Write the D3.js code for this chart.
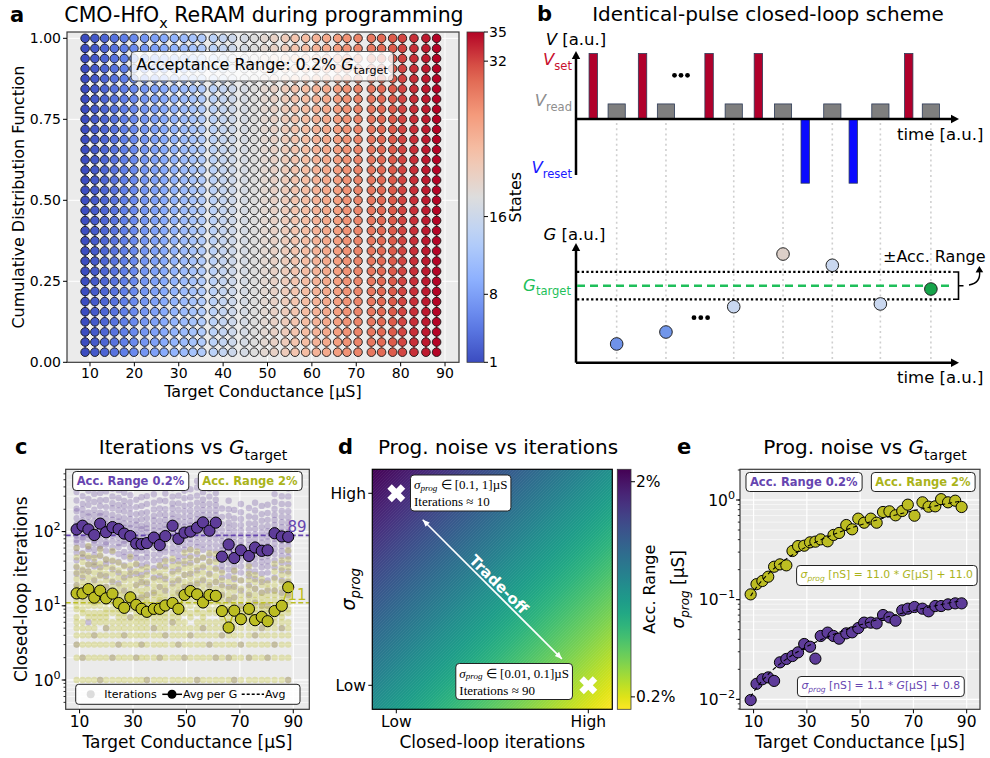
<!DOCTYPE html>
<html><head><meta charset="utf-8">
<script src="https://cdn.jsdelivr.net/npm/d3@7"></script>
<style>
html,body{margin:0;padding:0;background:#fff;}
svg{display:block;font-family:"DejaVu Sans",sans-serif;}
</style></head>
<body><svg id="fig" width="990" height="758"></svg>
<script>
// ======================= DATA =======================
const gTargets = [8.9, 11.1, 13.3, 15.5, 17.7, 19.9, 22.3, 24.6, 26.7, 29.0, 31.2, 33.2, 35.2, 37.8, 40.0, 42.1, 44.8, 47.0, 49.3, 51.5, 54.0, 56.2, 58.6, 61.0, 63.3, 65.8, 67.9, 70.4, 73.4, 75.7, 78.2, 80.4, 83.0, 85.7, 88.1];
const stateIds = [1,2,3,4,5,6,7,8,9,10,11,12,13,14,15,16,17,18,19,20,21,22,23,24,25,26,27,28,29,30,31,32,33,34,35];
const cdfLevels = [0.03125,0.0625,0.09375,0.125,0.15625,0.1875,0.21875,0.25,0.28125,0.3125,0.34375,0.375,0.40625,0.4375,0.46875,0.5,0.53125,0.5625,0.59375,0.625,0.65625,0.6875,0.71875,0.75,0.78125,0.8125,0.84375,0.875,0.90625,0.9375,0.96875,1.0];
const xTicksA = [10,20,30,40,50,60,70,80,90];
const yTicksA = [0,0.25,0.5,0.75,1.0];
const cbarTicksA = [1,8,16,32,35];
const xTicksCE = [10,30,50,70,90];

// panel c : closed-loop iterations
const avgIter02 = [107,120,107,90,128,98,115,108,94,87,69,68,70,83,66,87,120,80,97,100,113,133,103,132,46,67,44,56,47,61,55,56,95,86,85];
const avgIter2  = [14.7,14.7,16.8,12.9,16.0,12.6,14.6,10.9,9.4,13.0,10.3,9.1,8.3,9.1,9.1,10.1,10.9,9.1,14.0,15.8,14.3,11.1,14.0,13.6,8.5,5.1,8.6,6.6,9.1,6.4,7.1,6.2,8.5,10.0,17.8];
const segmentStarts = [0, 24, 32];
const meanIter02 = 89, meanIter2 = 11;
const iterCloud02 = [
"3 19 27 33 41 52 60 71 77 88 103 119 126 151 188 204 262 341 415",
"2 24 30 45 51 66 79 84 98 112 131 142 170 199 236 301 388 472",
"6 17 29 36 44 58 63 80 91 107 115 134 160 181 229 276 355",
"4 15 22 34 39 48 57 69 76 90 96 118 139 166 197 250 322",
"1 26 33 47 59 64 77 92 101 125 138 162 180 221 264 330 405 520",
"5 18 25 37 42 55 67 72 86 99 110 127 149 175 214 267 348",
"2 21 31 40 53 61 74 88 95 114 122 145 168 206 241 298 377 460",
"3 20 28 39 50 62 70 83 97 104 121 137 158 193 228 284 362",
"4 16 24 35 46 53 68 75 87 102 113 129 151 186 219 258 334",
"7 14 26 31 43 50 61 73 85 94 112 125 148 174 207 249 310",
"2 12 19 27 36 44 51 60 70 81 92 106 124 141 172 214 268",
"3 13 21 26 35 43 55 61 72 80 94 108 119 146 177 221 290",
"1 14 20 29 37 45 52 63 69 84 98 110 126 152 183 236 301",
"5 15 24 32 41 49 60 71 79 93 104 120 141 163 199 245 318 390",
"2 11 18 25 34 41 50 58 67 78 88 101 117 139 170 205 262",
"4 16 23 34 42 53 61 74 83 97 108 123 144 168 201 258 326",
"6 20 29 40 51 60 73 86 94 113 127 149 172 205 240 296 384 470",
"3 15 22 31 40 47 57 68 76 90 101 118 137 161 196 240 305",
"2 18 26 37 46 57 66 79 88 104 116 134 158 189 223 281 355",
"4 19 27 38 47 58 69 80 93 107 121 139 163 193 231 290 372",
"1 20 30 41 50 62 72 85 97 112 129 147 171 204 246 305 392 480",
"5 22 33 44 57 67 81 95 108 126 143 166 194 229 271 340 425 530",
"3 19 27 39 48 59 70 83 95 110 126 145 168 199 238 296 375",
"2 21 32 43 55 66 80 93 107 124 142 166 192 226 268 330 410 510",
"4 9 14 19 24 30 35 42 48 56 64 75 88 104 126 158 205",
"2 12 18 25 31 38 45 53 61 71 82 96 113 133 162 200 260",
"1 8 13 18 23 29 34 40 46 54 62 72 85 101 122 150 196",
"3 10 16 22 28 34 41 48 56 65 75 88 103 122 148 182 235",
"2 9 14 19 25 30 36 42 49 57 66 77 90 107 129 160 208",
"4 11 17 23 29 36 43 50 58 68 79 92 108 128 155 192 245",
"5 10 15 21 27 33 39 45 53 62 71 83 97 115 140 172 222",
"2 10 16 22 28 34 40 47 55 64 74 86 101 119 144 178 230",
"3 16 24 33 41 50 59 69 80 93 106 123 143 168 202 250 320 410",
"5 15 22 30 38 47 55 64 75 86 99 115 134 158 190 236 300",
"1 14 21 29 37 46 54 64 74 85 98 113 132 156 188 234 298 380"];
const iterCloud2 = [
"1 2 3 4 5 6 7 9 10 12 14 17 19 23 28 34 45 60",
"1 2 3 4 5 6 8 9 11 13 15 18 21 26 31 39 50",
"1 2 3 4 5 7 8 10 12 14 16 20 24 29 36 47 64",
"1 2 3 4 5 6 7 8 10 11 13 16 19 23 28 36 44",
"1 2 3 4 6 7 8 10 12 14 17 20 25 30 37 48 58",
"1 2 3 4 5 6 7 8 9 11 13 15 18 22 27 33 42",
"1 2 3 4 5 6 8 9 11 13 15 18 22 27 33 41 55",
"1 2 3 4 5 6 7 8 9 10 12 14 16 19 24 30 38",
"1 2 3 4 5 6 7 8 9 10 11 13 15 18 22 27 34",
"1 2 3 4 5 6 7 9 10 12 14 16 19 23 28 35 46",
"1 2 3 4 5 6 7 8 9 10 11 13 16 19 23 29 37",
"1 2 3 4 5 6 7 8 9 10 12 14 16 20 24 31",
"1 2 3 4 5 6 7 8 9 10 11 12 14 17 21 26 33",
"1 2 3 4 5 6 7 8 9 10 12 14 16 19 23 29",
"1 2 3 4 5 6 7 8 9 10 12 13 15 18 22 28 35",
"1 2 3 4 5 6 7 8 9 11 12 14 17 20 25 31 40",
"1 2 3 4 5 6 7 8 10 11 13 15 18 22 27 34 43",
"1 2 3 4 5 6 7 8 9 10 12 14 16 19 23 29 36",
"1 2 3 4 5 6 8 9 11 13 15 18 21 26 32 40 52",
"1 2 3 4 5 7 8 10 12 14 17 20 24 29 35 44 57",
"1 2 3 4 5 6 8 9 11 13 16 19 22 27 33 41 54",
"1 2 3 4 5 6 7 8 10 12 14 16 19 23 28 35 45",
"1 2 3 4 5 6 8 9 11 13 15 18 21 26 32 40 51",
"1 2 3 4 5 6 8 9 11 12 15 17 21 25 31 39 50",
"1 2 3 4 5 6 7 8 9 10 11 13 15 18 22 28",
"1 2 3 4 5 6 7 8 9 10 12 14 17 21",
"1 2 3 4 5 6 7 8 9 10 11 13 16 19 24 30",
"1 2 3 4 5 6 7 8 9 10 12 14 17 22",
"1 2 3 4 5 6 7 8 9 10 11 13 15 18 22 27 34",
"1 2 3 4 5 6 7 8 9 10 12 14 17 21 26",
"1 2 3 4 5 6 7 8 9 10 11 13 15 19 23",
"1 2 3 4 5 6 7 8 9 10 12 14 17 20",
"1 2 3 4 5 6 7 8 9 10 12 14 16 19 23 29 37",
"1 2 3 4 5 6 7 8 9 11 12 14 17 21 26 32 41",
"1 2 3 4 5 6 8 9 11 13 15 18 22 27 33 42 56"];

// panel e : programming noise (µS)
const sigma2  = [0.113,0.143,0.154,0.170,0.214,0.226,0.221,0.308,0.345,0.348,0.376,0.382,0.403,0.385,0.446,0.467,0.561,0.508,0.650,0.592,0.650,0.592,0.758,0.770,0.702,0.776,0.898,0.696,0.948,0.857,0.864,1.02,0.948,0.984,0.851];
const sigma02 = [0.00984,0.0143,0.0159,0.0166,0.0153,0.0235,0.0254,0.0272,0.0296,0.0359,0.0337,0.0256,0.0432,0.0467,0.0432,0.0406,0.0459,0.0470,0.0519,0.0588,0.0588,0.0578,0.0701,0.0664,0.0615,0.0781,0.0812,0.0844,0.0812,0.0764,0.0863,0.0863,0.0897,0.0918,0.0918];
const fit2  = [11.0, 11.0];   // slope, intercept  (nS)
const fit02 = [1.1, 0.8];

// panel b : schematic pulse train (a.u.)
const setTimes   = [0.7, 2.7, 5.4, 7.4, 13.5];
const readTimes  = [1.65, 3.65, 6.4, 8.4, 10.4, 12.35, 14.4];
const resetTimes = [9.3, 11.25];
const vSet = 1.0, vRead = 0.23, vReset = -0.98;
const gReadings = [0.157, 0.257, 0.469, 0.910, 0.816, 0.492, 0.617];
const gTargetLevel = 0.645, gBandLow = 0.531, gBandHigh = 0.760;

// panel d : trade-off map
const accRangeTicks = [2, 0.2];
const accRangeDomain = [2.104, 0.096];
const tradeoffPoints = [[0.1, 0.9], [0.9, 0.1]];

// ======================= STYLE =======================
const svg = d3.select("#fig");
const PURPLE = "#5e3c99", PURPLE_T = "#6645b0", OLIVE = "#bcbd22";
const AXBG = "#ebebeb", SPINE = "#3a3a3a";
const coolwarmStops = ["#3b4cc0","#6282ea","#8db0fe","#b8d0f9","#dddddd","#f5c4ac","#f49a7b","#de604d","#b40426"];
const coolwarm = d3.scaleLinear().domain(coolwarmStops.map((d,i)=>i/(coolwarmStops.length-1))).range(coolwarmStops).interpolate(d3.interpolateRgb);
const defs = svg.append("defs");

function rich(g, x, y, parts, o = {}) {
  const size = o.size || 14;
  const t = g.append("text").attr("x", x).attr("y", y).attr("font-size", size)
    .attr("fill", o.fill || "#000").attr("text-anchor", o.anchor || "start");
  if (o.family) t.attr("font-family", o.family);
  if (o.weight) t.attr("font-weight", o.weight);
  let shift = 0;
  parts.forEach(p => {
    const s = typeof p === "string" ? { t: p } : p;
    const target = s.sub ? size * 0.28 : s.sup ? -size * 0.42 : 0;
    const ts = t.append("tspan").text(s.t).attr("dy", target - shift);
    shift = target;
    if (s.sub || s.sup) ts.attr("font-size", size * (s.scale || 0.7));
    if (s.it) ts.attr("font-style", "italic");
    if (s.fill) ts.attr("fill", s.fill);
  });
  return t;
}
// multi-line text in a single <text> element
function richLines(g, x, y, lines, gap, o = {}) {
  const size = o.size || 14;
  const t = g.append("text").attr("x", x).attr("y", y).attr("font-size", size).attr("fill", o.fill || "#000");
  if (o.family) t.attr("font-family", o.family);
  let shift = 0;
  lines.forEach((parts, li) => {
    parts.forEach((p, pi) => {
      const s = typeof p === "string" ? { t: p } : p;
      const target = s.sub ? size * 0.15 : 0;
      const ts = t.append("tspan").text(s.t);
      if (pi === 0 && li > 0) { ts.attr("x", x).attr("dy", gap + target - shift); }
      else ts.attr("dy", target - shift);
      shift = target;
      if (s.sub) ts.attr("font-size", size * 0.7);
      if (s.it) ts.attr("font-style", "italic");
    });
  });
  return t;
}
function boxIt(g, nodes, padX, padY, o = {}) {
  let x0 = 1e9, y0 = 1e9, x1 = -1e9, y1 = -1e9;
  nodes.forEach(n => { const b = n.node().getBBox(); x0 = Math.min(x0, b.x); y0 = Math.min(y0, b.y); x1 = Math.max(x1, b.x + b.width); y1 = Math.max(y1, b.y + b.height); });
  g.insert("rect", () => nodes[0].node())
    .attr("x", x0 - padX).attr("y", y0 - padY).attr("width", x1 - x0 + 2 * padX).attr("height", y1 - y0 + 2 * padY)
    .attr("rx", o.rx || 3.5).attr("fill", "#fff").attr("fill-opacity", o.op === undefined ? 0.85 : o.op)
    .attr("stroke", o.stroke || "#222").attr("stroke-width", o.sw || 1);
}
function line(g, x1, y1, x2, y2, stroke, w, dash) {
  const l = g.append("line").attr("x1", x1).attr("y1", y1).attr("x2", x2).attr("y2", y2).attr("stroke", stroke).attr("stroke-width", w);
  if (dash) l.attr("stroke-dasharray", dash);
  return l;
}
function logLabel(g, x, y, exp, size) {
  const t = g.append("text").attr("x", x).attr("y", y + size * 0.36).attr("text-anchor", "end").attr("font-size", size);
  t.append("tspan").text("10");
  t.append("tspan").attr("dy", -size * 0.45).attr("font-size", size * 0.72).text(exp < 0 ? "\u2212" + (-exp) : String(exp));
}

// ======================= PANEL A =======================
{
  const A = { l: 67, r: 459, t: 32, b: 362.3 };
  const xA = d3.scaleLinear().domain([4.82, 93.15]).range([A.l, A.r]);
  const yA = d3.scaleLinear().domain([0, 1.0195]).range([A.b, A.t]);
  const cA = d3.scaleLinear().domain([1, 35]).range([A.b, A.t]);
  const colorA = s => coolwarm((s - 1) / 34);
  const g = svg.append("g");
  g.append("rect").attr("x", A.l).attr("y", A.t).attr("width", A.r - A.l).attr("height", A.b - A.t).attr("fill", AXBG);
  xTicksA.forEach(v => line(g, xA(v), A.t, xA(v), A.b, "#fff", 1));
  yTicksA.forEach(v => line(g, A.l, yA(v), A.r, yA(v), "#fff", 1));
  gTargets.forEach((gt, i) => {
    const c = colorA(stateIds[i]);
    g.append("path").attr("d", d3.line()(cdfLevels.map(p => [xA(gt), yA(p)]))).attr("stroke", c).attr("stroke-width", 1.5).attr("fill", "none");
    g.selectAll(null).data(cdfLevels).join("circle").attr("cx", xA(gt)).attr("cy", p => yA(p)).attr("r", 4.3)
      .attr("fill", c).attr("stroke", "#161616").attr("stroke-width", 0.9);
  });
  g.append("rect").attr("x", A.l).attr("y", A.t).attr("width", A.r - A.l).attr("height", A.b - A.t).attr("fill", "none").attr("stroke", SPINE).attr("stroke-width", 1.2);
  xTicksA.forEach(v => { line(g, xA(v), A.b, xA(v), A.b + 4, "#000", 1); g.append("text").attr("x", xA(v)).attr("y", 378).attr("text-anchor", "middle").attr("font-size", 14).text(v); });
  yTicksA.forEach(v => { line(g, A.l - 4, yA(v), A.l, yA(v), "#000", 1); g.append("text").attr("x", 61).attr("y", yA(v) + 5).attr("text-anchor", "end").attr("font-size", 14).text(v.toFixed(2)); });
  g.append("text").attr("x", (A.l + A.r) / 2).attr("y", 397).attr("text-anchor", "middle").attr("font-size", 16).text("Target Conductance [µS]");
  g.append("text").attr("transform", `translate(18,${(A.t + A.b) / 2}) rotate(-90)`).attr("dy", "0.35em").attr("text-anchor", "middle").attr("font-size", 16).text("Cumulative Distribution Function");
  rich(g, 264, 22, ["CMO-HfO", { t: "x", sub: true }, " ReRAM during programming"], { size: 20.5, anchor: "middle" });
  g.append("text").attr("x", 10).attr("y", 22).attr("font-size", 21).attr("font-weight", "bold").text("a");
  const ann = rich(g, 262, 70, ["Acceptance Range: 0.2% ", { t: "G", it: true }, { t: "target", sub: true }], { size: 16, anchor: "middle" });
  boxIt(g, [ann], 5, 3.5, { stroke: "#555", op: 0.8 });
  const grad = defs.append("linearGradient").attr("id", "cwgrad").attr("x1", 0).attr("y1", 1).attr("x2", 0).attr("y2", 0);
  d3.range(0, 1.0001, 0.05).forEach(t => grad.append("stop").attr("offset", t).attr("stop-color", coolwarm(t)));
  g.append("rect").attr("x", 467).attr("y", A.t).attr("width", 17).attr("height", A.b - A.t).attr("fill", "url(#cwgrad)").attr("stroke", SPINE).attr("stroke-width", 0.8);
  cbarTicksA.forEach(v => { line(g, 484, cA(v), 488, cA(v), "#000", 1); g.append("text").attr("x", 489).attr("y", cA(v) + 5).attr("font-size", 14).text(v); });
  g.append("text").attr("transform", `translate(515,${(A.t + A.b) / 2}) rotate(-90)`).attr("dy", "0.35em").attr("text-anchor", "middle").attr("font-size", 16).text("States");
}

// ======================= PANEL B =======================
{
  const g = svg.append("g");
  const xB = d3.scaleLinear().domain([0, 15.5]).range([576, 958]);
  const vB = d3.scaleLinear().domain([0, 1]).range([119, 53.5]);
  const gB = d3.scaleLinear().domain([0, 1]).range([362.7, 243.3]);
  g.append("text").attr("x", 537).attr("y", 21).attr("font-size", 21).attr("font-weight", "bold").text("b");
  g.append("text").attr("x", 768).attr("y", 21).attr("text-anchor", "middle").attr("font-size", 20).text("Identical-pulse closed-loop scheme");
  readTimes.forEach(t => line(g, xB(t), 123, xB(t), 360, "#cfcfcf", 1.6, "2,3.2"));
  const edge = "#2d3b57";
  setTimes.forEach(t => g.append("rect").attr("x", xB(t) - 4.2).attr("y", vB(vSet)).attr("width", 8.4).attr("height", vB(0) - vB(vSet)).attr("fill", "#b0002c").attr("stroke", edge).attr("stroke-width", 0.8));
  readTimes.forEach(t => g.append("rect").attr("x", xB(t) - 8.6).attr("y", vB(vRead)).attr("width", 17.2).attr("height", vB(0) - vB(vRead)).attr("fill", "#7f7f7f").attr("stroke", edge).attr("stroke-width", 0.8));
  resetTimes.forEach(t => g.append("rect").attr("x", xB(t) - 4.2).attr("y", vB(0)).attr("width", 8.4).attr("height", vB(vReset) - vB(0)).attr("fill", "#0a0aff").attr("stroke", edge).attr("stroke-width", 0.8));
  const arrow = (x, y, dir) => {
    const s = 8, w = 4.2;
    let p;
    if (dir === "up") p = `M${x},${y} L${x - w},${y + s} L${x + w},${y + s} Z`;
    else p = `M${x},${y} L${x - s},${y - w} L${x - s},${y + w} Z`;
    g.append("path").attr("d", p).attr("fill", "#000");
  };
  line(g, 576, 175, 576, 58, "#000", 2.5); arrow(576, 51, "up");
  line(g, 576, vB(0), 952, vB(0), "#000", 2.5); arrow(959, vB(0), "right");
  line(g, 576, 362.7, 576, 250, "#000", 2.5); arrow(576, 243, "up");
  line(g, 576, 362.7, 952, 362.7, "#000", 2.5); arrow(959, 362.7, "right");
  g.selectAll(null).data([674.5, 681, 687.5]).join("circle").attr("cx", d => d).attr("cy", 75.3).attr("r", 2.4).attr("fill", "#000");
  rich(g, 545.7, 45, [{ t: "V", it: true }, " [a.u.]"], { size: 16.5 });
  rich(g, 572, 65, [{ t: "V", it: true }, { t: "set", sub: true }], { size: 16.5, anchor: "end", fill: "#c8102e" });
  rich(g, 572, 106, [{ t: "V", it: true }, { t: "read", sub: true }], { size: 16.5, anchor: "end", fill: "#8e8e8e" });
  rich(g, 572, 173.3, [{ t: "V", it: true }, { t: "reset", sub: true }], { size: 16.5, anchor: "end", fill: "#1a1aff" });
  g.append("text").attr("x", 897).attr("y", 140).attr("font-size", 16.5).text("time [a.u.]");
  rich(g, 543.5, 239.5, [{ t: "G", it: true }, " [a.u.]"], { size: 16.5 });
  g.append("text").attr("x", 897).attr("y", 383).attr("font-size", 16.5).text("time [a.u.]");
  line(g, 577, gB(gBandHigh), 952, gB(gBandHigh), "#000", 2.2, "2.3,2.4");
  line(g, 577, gB(gBandLow), 952, gB(gBandLow), "#000", 2.2, "2.3,2.4");
  line(g, 577, gB(gTargetLevel), 952, gB(gTargetLevel), "#1fbf5a", 2.6, "8,5");
  rich(g, 571, 290.5, [{ t: "G", it: true }, { t: "target", sub: true }], { size: 16.5, anchor: "end", fill: "#1fbf5a" });
  g.append("path").attr("d", `M953,${gB(gBandHigh)} H958.5 V${gB(gBandLow)} H953 M958.5,${gB(gTargetLevel)} H963.5`).attr("fill", "none").attr("stroke", "#000").attr("stroke-width", 1.6);
  g.append("path").attr("d", "M969,285 Q981,283 979.5,271").attr("fill", "none").attr("stroke", "#000").attr("stroke-width", 1.4);
  g.append("path").attr("d", "M979.3,266 L975.6,272.5 L983.2,272.3 Z").attr("fill", "#000");
  g.append("text").attr("x", 883).attr("y", 262).attr("font-size", 16).text("±Acc. Range");
  g.selectAll(null).data([694, 700.8, 707.6]).join("circle").attr("cx", d => d).attr("cy", 317.7).attr("r", 2.4).attr("fill", "#000");
  const circleColors = ["#6f92e8", "#7196ea", "#c9d7ef", "#dccfc8", "#c9d7ef", "#c9d7ef", "#16a34a"];
  g.selectAll(null).data(gReadings).join("circle").attr("cx", (d, i) => xB(readTimes[i])).attr("cy", d => gB(d)).attr("r", 6.3)
    .attr("fill", (d, i) => circleColors[i]).attr("stroke", "#222").attr("stroke-width", 1);
}

// ======================= helpers for log panels =======================
function logPanel(g, P, xS, yS, majors) {
  g.append("rect").attr("x", P.l).attr("y", P.t).attr("width", P.r - P.l).attr("height", P.b - P.t).attr("fill", AXBG);
  const all = yS.ticks(20).filter(v => v >= yS.domain()[0] && v <= yS.domain()[1]);
  all.forEach(v => line(g, P.l, yS(v), P.r, yS(v), "#fff", 0.6));
  majors.forEach(v => line(g, P.l, yS(v), P.r, yS(v), "#fff", 1.2));
  xTicksCE.forEach(v => line(g, xS(v), P.t, xS(v), P.b, "#fff", 1.2));
  return all;
}
function logPanelAxes(g, P, xS, yS, majors, exps, all) {
  g.append("rect").attr("x", P.l).attr("y", P.t).attr("width", P.r - P.l).attr("height", P.b - P.t).attr("fill", "none").attr("stroke", SPINE).attr("stroke-width", 1.2);
  all.forEach(v => line(g, P.l - 2.2, yS(v), P.l, yS(v), "#000", 0.8));
  majors.forEach((v, i) => { line(g, P.l - 4, yS(v), P.l, yS(v), "#000", 1); logLabel(g, P.l - 5, yS(v), exps[i], 15.5); });
  xTicksCE.forEach(v => { line(g, xS(v), P.b, xS(v), P.b + 4, "#000", 1); g.append("text").attr("x", xS(v)).attr("y", 727).attr("text-anchor", "middle").attr("font-size", 15.5).text(v); });
  g.append("text").attr("x", (P.l + P.r) / 2).attr("y", 748).attr("text-anchor", "middle").attr("font-size", 17).text("Target Conductance [µS]");
}
function rangeBoxes(g, x02, x2, cy) {
  const a = rich(g, x02, cy + 4, ["Acc. Range 0.2%"], { size: 11.5, weight: "bold", fill: PURPLE_T, anchor: "middle" });
  boxIt(g, [a], 4, 2.5, { op: 1 });
  const b = rich(g, x2, cy + 4, ["Acc. Range 2%"], { size: 11.5, weight: "bold", fill: "#aab31a", anchor: "middle" });
  boxIt(g, [b], 4, 2.5, { op: 1 });
}

// ======================= PANEL C =======================
{
  const P = { l: 65.7, r: 309.3, t: 469.3, b: 709.3 };
  const xC = d3.scaleLinear().domain([4.8, 96]).range([P.l, P.r]);
  const yC = d3.scaleLog().domain([0.403, 691]).range([P.b, P.t]);
  const g = svg.append("g");
  const all = logPanel(g, P, xC, yC, [1, 10, 100]);
  defs.append("clipPath").attr("id", "clipC").append("rect").attr("x", P.l).attr("y", P.t).attr("width", P.r - P.l).attr("height", P.b - P.t);
  const gc = g.append("g").attr("clip-path", "url(#clipC)");
  iterCloud02.forEach((s, i) => s.split(" ").map(Number).forEach(v => gc.append("circle").attr("cx", xC(gTargets[i])).attr("cy", yC(v)).attr("r", 3.2).attr("fill", PURPLE).attr("fill-opacity", 0.27)));
  iterCloud2.forEach((s, i) => s.split(" ").map(Number).forEach(v => gc.append("circle").attr("cx", xC(gTargets[i])).attr("cy", yC(v)).attr("r", 3.2).attr("fill", OLIVE).attr("fill-opacity", 0.3)));
  line(gc, P.l, yC(meanIter02), P.r, yC(meanIter02), PURPLE_T, 1.6, "5,2.5");
  line(gc, P.l, yC(meanIter2), P.r, yC(meanIter2), OLIVE, 1.6, "5,2.5");
  const segs = segmentStarts.map((s, k) => d3.range(s, k + 1 < segmentStarts.length ? segmentStarts[k + 1] : gTargets.length));
  [[avgIter02, PURPLE], [avgIter2, OLIVE]].forEach(([arr, col]) => {
    segs.forEach(idx => gc.append("path").attr("d", d3.line()(idx.map(i => [xC(gTargets[i]), yC(arr[i])]))).attr("fill", "none").attr("stroke", col).attr("stroke-width", 1.5));
    gc.selectAll(null).data(arr).join("circle").attr("cx", (d, i) => xC(gTargets[i])).attr("cy", d => yC(d)).attr("r", 5.6).attr("fill", col).attr("stroke", "#000").attr("stroke-width", 1);
  });
  g.append("text").attr("x", 306.5).attr("y", 532).attr("text-anchor", "end").attr("font-size", 15).attr("fill", PURPLE_T).text(meanIter02);
  g.append("text").attr("x", 306.5).attr("y", 600).attr("text-anchor", "end").attr("font-size", 15).attr("fill", OLIVE).text(meanIter2);
  rangeBoxes(g, 130.5, 250, 481);
  g.append("rect").attr("x", 75.7).attr("y", 684.3).attr("width", 224.3).attr("height", 20).attr("rx", 3).attr("fill", "#fff").attr("fill-opacity", 0.9).attr("stroke", "#222");
  g.append("circle").attr("cx", 90.7).attr("cy", 694.3).attr("r", 4).attr("fill", "#dcdcdc");
  g.append("text").attr("x", 104.3).attr("y", 698.3).attr("font-size", 11).text("Iterations");
  line(g, 162.3, 694.3, 182, 694.3, "#000", 1.5);
  g.append("circle").attr("cx", 172).attr("cy", 694.3).attr("r", 4.5).attr("fill", "#000");
  g.append("text").attr("x", 183).attr("y", 698.3).attr("font-size", 11).text("Avg per G");
  line(g, 241.7, 694.3, 264, 694.3, "#000", 1.4, "3,2");
  g.append("text").attr("x", 265).attr("y", 698.3).attr("font-size", 11).text("Avg");
  logPanelAxes(g, P, xC, yC, [1, 10, 100], [0, 1, 2], all);
  g.append("text").attr("transform", `translate(21,${(P.t + P.b) / 2}) rotate(-90)`).attr("dy", "0.35em").attr("text-anchor", "middle").attr("font-size", 17).text("Closed-loop iterations");
  rich(g, 193, 454, ["Iterations vs ", { t: "G", it: true }, { t: "target", sub: true }], { size: 20, anchor: "middle" });
  g.append("text").attr("x", 15).attr("y", 454).attr("font-size", 21).attr("font-weight", "bold").text("c");
}

// ======================= PANEL D =======================
{
  const P = { l: 372.3, r: 612.3, t: 469.3, b: 709.3 };
  const xD = d3.scaleLinear().domain([0, 1]).range([P.l, P.r]);
  const yD = d3.scaleLinear().domain([0, 1]).range([P.b, P.t]);
  const accColor = d3.scaleSequential(d3.interpolateViridis).domain(accRangeDomain);
  const accY = d3.scaleLinear().domain(accRangeDomain).range([P.t, P.b]);
  const g = svg.append("g");
  const grad = defs.append("linearGradient").attr("id", "diag").attr("x1", 0).attr("y1", 0).attr("x2", 1).attr("y2", 1);
  d3.range(0, 1.0001, 0.05).forEach(t => grad.append("stop").attr("offset", t).attr("stop-color", accColor(accRangeDomain[0] + (accRangeDomain[1] - accRangeDomain[0]) * t)));
  g.append("rect").attr("x", P.l).attr("y", P.t).attr("width", P.r - P.l).attr("height", P.b - P.t).attr("fill", "url(#diag)");
  const pat = defs.append("pattern").attr("id", "hatch").attr("patternUnits", "userSpaceOnUse").attr("width", 3).attr("height", 3);
  pat.append("path").attr("d", "M-1,1 l2,-2 M0,3 l3,-3 M2,4 l2,-2").attr("stroke", "#fff").attr("stroke-width", 0.5).attr("stroke-opacity", 0.12);
  g.append("rect").attr("x", P.l).attr("y", P.t).attr("width", P.r - P.l).attr("height", P.b - P.t).attr("fill", "url(#hatch)");
  g.append("rect").attr("x", P.l).attr("y", P.t).attr("width", P.r - P.l).attr("height", P.b - P.t).attr("fill", "none").attr("stroke", "#000").attr("stroke-width", 1.2);
  const a0 = [xD(0.21), yD(0.79)], a1 = [xD(0.79), yD(0.21)];
  line(g, a0[0], a0[1], a1[0], a1[1], "#fff", 1.6);
  const ah = (p, q) => { const ang = Math.atan2(p[1] - q[1], p[0] - q[0]); const L = 7, W = 3; const b = [p[0] - L * Math.cos(ang), p[1] - L * Math.sin(ang)];
    g.append("path").attr("d", `M${p[0]},${p[1]} L${b[0] + W * Math.sin(ang)},${b[1] - W * Math.cos(ang)} L${b[0] - W * Math.sin(ang)},${b[1] + W * Math.cos(ang)} Z`).attr("fill", "#fff"); };
  ah(a0, a1); ah(a1, a0);
  g.append("text").attr("transform", `translate(498.8,584.3) rotate(44.8)`).attr("text-anchor", "middle").attr("dy", "0.35em").attr("font-size", 15).attr("font-weight", "bold").attr("fill", "#fff").text("Trade-off");
  g.selectAll(null).data(tradeoffPoints).join("path").attr("d", d3.symbol(d3.symbolCross, 200)).attr("transform", d => `translate(${xD(d[0])},${yD(d[1])}) rotate(45)`).attr("fill", "#fff");
  const SER = "Liberation Serif";
  const t1 = richLines(g, 414, 489, [[{ t: "σ", it: true }, { t: "prog", it: true, sub: true }, " ∈ [0.1, 1]µS"], ["Iterations ≈ 10"]], 17, { size: 13, family: SER });
  boxIt(g, [t1], 3.5, 2, { op: 1 });
  const t3 = richLines(g, 459.3, 677.5, [[{ t: "σ", it: true }, { t: "prog", it: true, sub: true }, " ∈ [0.01, 0.1]µS"], ["Iterations ≈ 90"]], 17, { size: 13, family: SER });
  boxIt(g, [t3], 3.5, 2, { op: 1 });
  [[0.1, "Low"], [0.9, "High"]].forEach(([v, s]) => {
    line(g, xD(v), P.b, xD(v), P.b + 4, "#000", 1);
    g.append("text").attr("x", xD(v)).attr("y", 727).attr("text-anchor", "middle").attr("font-size", 15.5).text(s);
    line(g, P.l - 4, yD(v), P.l, yD(v), "#000", 1);
    g.append("text").attr("x", 366).attr("y", yD(v) + 5.5).attr("text-anchor", "end").attr("font-size", 15.5).text(s);
  });
  g.append("text").attr("x", (P.l + P.r) / 2).attr("y", 748).attr("text-anchor", "middle").attr("font-size", 17).text("Closed-loop iterations");
  rich(g, 0, 0, [{ t: "σ", it: true }, { t: "prog", it: true, sub: true }], { size: 19, anchor: "middle" }).attr("transform", `translate(355,${(P.t + P.b) / 2}) rotate(-90)`);
  g.append("text").attr("x", 498).attr("y", 454).attr("text-anchor", "middle").attr("font-size", 20).text("Prog. noise vs iterations");
  g.append("text").attr("x", 338).attr("y", 454).attr("font-size", 21).attr("font-weight", "bold").text("d");
  const cg = defs.append("linearGradient").attr("id", "vcb").attr("x1", 0).attr("y1", 0).attr("x2", 0).attr("y2", 1);
  d3.range(0, 1.0001, 0.05).forEach(t => cg.append("stop").attr("offset", t).attr("stop-color", accColor(accRangeDomain[0] + (accRangeDomain[1] - accRangeDomain[0]) * t)));
  g.append("rect").attr("x", 617.3).attr("y", P.t).attr("width", 13.7).attr("height", P.b - P.t).attr("fill", "url(#vcb)").attr("stroke", SPINE).attr("stroke-width", 0.8);
  accRangeTicks.forEach(v => { line(g, 631, accY(v), 635, accY(v), "#000", 1); g.append("text").attr("x", 636).attr("y", accY(v) + 5.5).attr("font-size", 15.5).text(v + "%"); });
  g.append("text").attr("transform", `translate(649,${(P.t + P.b) / 2}) rotate(-90)`).attr("dy", "0.35em").attr("text-anchor", "middle").attr("font-size", 16).text("Acc. Range");
}

// ======================= PANEL E =======================
{
  const P = { l: 740, r: 980, t: 469.3, b: 709.3 };
  const xE = d3.scaleLinear().domain([4.9, 95]).range([P.l, P.r]);
  const yE = d3.scaleLog().domain([0.00794, 2.033]).range([P.b, P.t]);
  const g = svg.append("g");
  const all = logPanel(g, P, xE, yE, [0.01, 0.1, 1]);
  const gs = d3.range(8.9, 88.2, 0.5);
  [[fit2, sigma2, OLIVE], [fit02, sigma02, PURPLE]].forEach(([fit, arr, col]) => {
    g.selectAll(null).data(arr).join("circle").attr("cx", (d, i) => xE(gTargets[i])).attr("cy", d => yE(d)).attr("r", 5.6).attr("fill", col).attr("stroke", "#000").attr("stroke-width", 1);
    g.append("path").attr("d", d3.line()(gs.map(G => [xE(G), yE((fit[0] * G + fit[1]) / 1000)]))).attr("fill", "none").attr("stroke", "#000").attr("stroke-width", 1.1).attr("stroke-dasharray", "4,3");
  });
  rangeBoxes(g, 803.8, 923, 482);
  const f1 = rich(g, 886.8, 578, [{ t: "σ", it: true }, { t: "prog", it: true, sub: true }, " [nS] = 11.0 * ", { t: "G", it: true }, "[µS] + 11.0"], { size: 10.8, fill: "#aab31a", anchor: "middle" });
  boxIt(g, [f1], 4, 2.5, { op: 1 });
  const f2 = rich(g, 880.8, 689, [{ t: "σ", it: true }, { t: "prog", it: true, sub: true }, " [nS] = 1.1 * ", { t: "G", it: true }, "[µS] + 0.8"], { size: 10.8, fill: PURPLE_T, anchor: "middle" });
  boxIt(g, [f2], 4, 2.5, { op: 1 });
  logPanelAxes(g, P, xE, yE, [0.01, 0.1, 1], [-2, -1, 0], all);
  rich(g, 0, 0, [{ t: "σ", it: true }, { t: "prog", it: true, sub: true }, " [µS]"], { size: 17, anchor: "middle" }).attr("transform", `translate(684,${(P.t + P.b) / 2}) rotate(-90)`);
  rich(g, 865, 454, ["Prog. noise vs ", { t: "G", it: true }, { t: "target", sub: true }], { size: 20, anchor: "middle" });
  g.append("text").attr("x", 677).attr("y", 454).attr("font-size", 21).attr("font-weight", "bold").text("e");
}
</script></body></html>
